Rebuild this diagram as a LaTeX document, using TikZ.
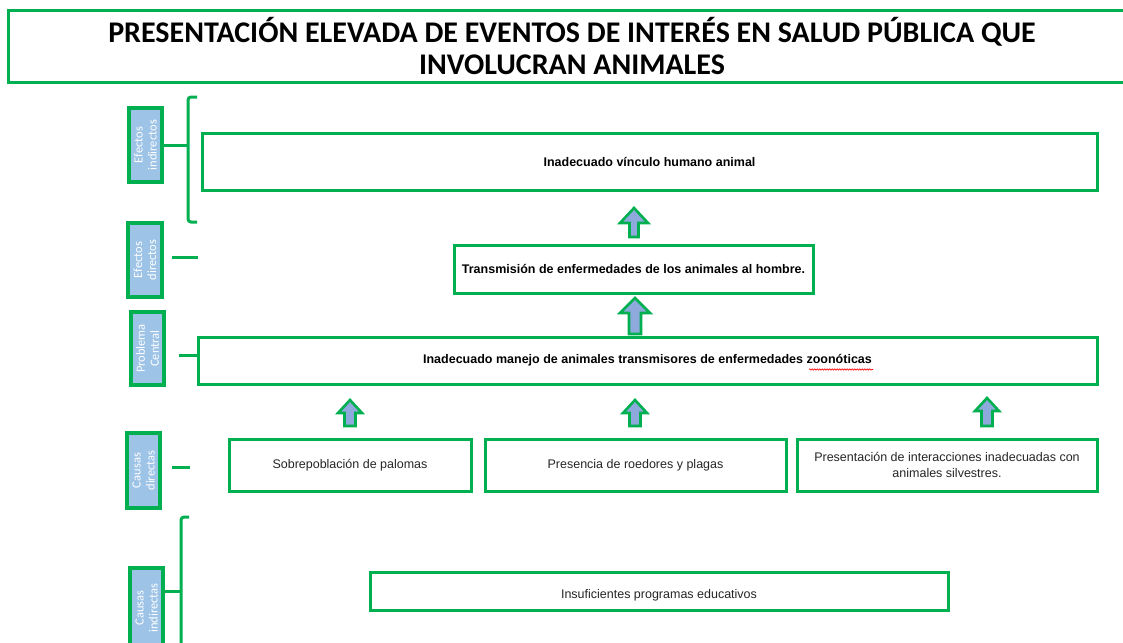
\documentclass[tikz,border=0pt]{standalone}
\usepackage{fontspec}
\setmainfont{Liberation Sans}
\newfontfamily\titlefont{Carlito}
\usetikzlibrary{shadows,decorations.pathmorphing}
\definecolor{gr}{HTML}{00B050}
\definecolor{lblue}{HTML}{9DC3E6}
\definecolor{ablue}{HTML}{8EA9DB}
\definecolor{txt}{HTML}{262626}
\tikzset{
  box/.style={draw=gr, line width=3pt, fill=white, inner sep=2pt, align=center, text=txt, font=\fontsize{12.5}{16}\selectfont},
  bbox/.style={box, text=black, font=\fontsize{12.5}{16}\selectfont\bfseries},
  lbl/.style={draw=gr, line width=3.5pt, fill=lblue, rotate=90, text=white, align=center,
    font=\titlefont\fontsize{12.5}{14}\selectfont, inner sep=0pt,
    drop shadow={opacity=0.35, shadow xshift=1.2pt, shadow yshift=-1.2pt}},
  conn/.style={draw=gr, line width=3pt},
  arr/.style={draw=gr, line width=2.6pt, fill=ablue, line join=miter},
}
\newcommand\blockarrow[6]{% x, tip y, head base y, bottom y, head half, shaft half
  \draw[arr] (#1-#6,#4) -- (#1-#6,#3) -- (#1-#5,#3) -- (#1,#2) -- (#1+#5,#3) -- (#1+#6,#3) -- (#1+#6,#4) -- cycle;}
\begin{document}
\begin{tikzpicture}[x=1pt,y=-1pt]
\useasboundingbox (0,0) rectangle (1123,642);
% title
\draw[conn] (1126,11) -| (8,82) -- (1126,82);
\node[minimum width=1112, minimum height=72, inner sep=0pt, align=center,
  font=\titlefont\bfseries\fontsize{30}{32}\selectfont] (title) at (572,46.5)
  {PRESENTACIÓN ELEVADA DE EVENTOS DE INTERÉS EN SALUD PÚBLICA QUE\\INVOLUCRAN ANIMALES};
% label boxes
\node[lbl, minimum width=74, minimum height=33] (ei) at (145.5,145) {Efectos\\indirectos};
\node[lbl, minimum width=74, minimum height=34] (ed) at (145,260) {Efectos\\directos};
\node[lbl, minimum width=73, minimum height=33] (pc) at (147.5,348.5) {Problema\\Central};
\node[lbl, minimum width=75, minimum height=33] (cd) at (143.5,470.5) {Causas\\directas};
\node[lbl, minimum width=80, minimum height=33] (ci) at (146.5,608) {Causas\\indirectas};
% main boxes
\node[bbox, minimum width=895, minimum height=57] (b1) at (649.5,161.5) {Inadecuado vínculo humano animal};
\node[bbox, minimum width=359, minimum height=48] (b2) at (633.5,269) {Transmisión de enfermedades de los animales al hombre.};
\node[bbox, minimum width=899, minimum height=47] (b3) at (647.5,360.5) {Inadecuado manejo de animales transmisores de enfermedades zoonóticas};
\node[box, minimum width=242, minimum height=52] (c1) at (350,465) {Sobrepoblación de palomas};
\node[box, minimum width=301, minimum height=52] (c2) at (635.5,465) {Presencia de roedores y plagas};
\node[box, minimum width=300, minimum height=52] (c3) at (947,465) {Presentación de interacciones inadecuadas con\\animales silvestres.};
\node[box, minimum width=578, minimum height=38, text height=15pt, text depth=0pt] (d1) at (659,591) {Insuficientes programas educativos};
% spell-check squiggle
\draw[red, line width=0.6pt, decorate, decoration={snake, amplitude=0.7pt, segment length=2.5pt}] (809,369.5) -- (873,369.5);
% brackets and connectors
\draw[conn, rounded corners=3pt] (197,97) -| (188,222) -- (197,222);
\draw[conn] (ei.south) -- (188,145);
\draw[conn] (172,257) -- (198,257);
\draw[conn] (179,355) -- (b3.west |- 0,355);
\draw[conn] (172,467) -- (190,467);
\draw[conn, rounded corners=3pt] (189,517) -| (181,645);
\draw[conn] (ci.south |- 0,591) -- (181,591);
% block arrows
\blockarrow{634}{208}{223}{237}{14}{4.5}
\blockarrow{635}{298}{313}{334}{15}{6}
\blockarrow{350}{400}{413}{426}{12}{5.5}
\blockarrow{635}{400}{413}{426}{12}{5.5}
\blockarrow{987}{398}{411}{426}{12}{5.5}
\end{tikzpicture}
\end{document}
